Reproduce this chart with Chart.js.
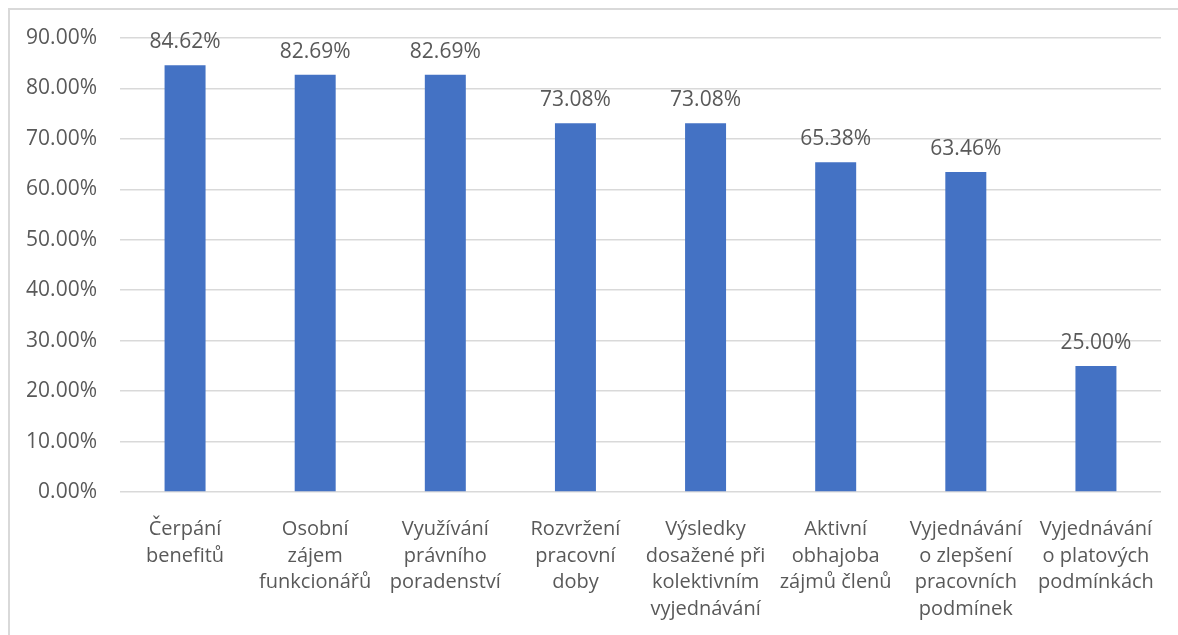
<!DOCTYPE html>
<html lang="cs">
<head>
<meta charset="utf-8">
<title>Graf</title>
<script src="https://cdn.jsdelivr.net/npm/chart.js@4.4.1/dist/chart.umd.min.js"></script>
<style>
    html, body { margin: 0; padding: 0; background: #FFFFFF; overflow: hidden; }
    .frame {
        position: absolute;
        left: 8px;
        top: 8px;
        width: 1200px;
        height: 700px;
        border-top: 2px solid #D9D9D9;
        border-left: 2px solid #D9D9D9;
    }
    #graf { position: absolute; left: 0; top: 0; }
</style>
</head>
<body>
<div class="frame"></div>
<canvas id="graf" width="1178" height="635"></canvas>
<script>
// kategorie (popisky osy x, víceřádkové)
const kategorie = [
    ["Čerpání", "benefitů"],
    ["Osobní", "zájem", "funkcionářů"],
    ["Využívání", "právního", "poradenství"],
    ["Rozvržení", "pracovní", "doby"],
    ["Výsledky", "dosažené při", "kolektivním", "vyjednávání"],
    ["Aktivní", "obhajoba", "zájmů členů"],
    ["Vyjednávání", "o zlepšení", "pracovních", "podmínek"],
    ["Vyjednávání", "o platových", "podmínkách"]
];

// hodnoty v procentech
const hodnoty = [84.62, 82.69, 82.69, 73.08, 73.08, 65.38, 63.46, 25.00];

// osa y
const osaMin = 0;
const osaMax = 90;
const osaKrok = 10;

const barvy = {
    sloupec: '#4472C4',
    text: '#595959',
    mrizka: '#D9D9D9',
};

const pismo = '"Open Sans", "Noto Sans", sans-serif';

// popisky hodnot nad sloupci
const popiskyHodnot = {
    id: 'popiskyHodnot',
    afterDatasetsDraw(chart) {
        const ctx = chart.ctx;
        const meta = chart.getDatasetMeta(0);
        ctx.save();
        ctx.font = '21px ' + pismo;
        ctx.fillStyle = barvy.text;
        ctx.textAlign = 'center';
        ctx.textBaseline = 'alphabetic';
        meta.data.forEach(function (bar, i) {
            ctx.fillText(hodnoty[i].toFixed(2) + '%', bar.x, bar.y - 17);
        });
        ctx.restore();
    }
};

const ctx = document.getElementById('graf').getContext('2d');

new Chart(ctx, {
    type: 'bar',
    data: {
        labels: kategorie,
        datasets: [{
            data: hodnoty,
            backgroundColor: barvy.sloupec,
            categoryPercentage: 1,
            barPercentage: 0.315,
        }],
    },
    options: {
        responsive: false,
        animation: false,
        layout: {
            padding: { top: 38, right: 17, bottom: 0, left: 0 },
        },
        plugins: {
            legend: { display: false },
            tooltip: { enabled: false },
        },
        scales: {
            x: {
                grid: { display: false },
                border: { display: false },
                ticks: {
                    color: barvy.text,
                    font: { family: pismo, size: 20, lineHeight: 1.33 },
                    padding: 16,
                    maxRotation: 0,
                    minRotation: 0,
                    autoSkip: false,
                },
                afterFit(scale) { scale.height = 143; },
            },
            y: {
                min: osaMin,
                max: osaMax,
                grid: {
                    color: barvy.mrizka,
                    lineWidth: 1.5,
                    drawTicks: false,
                },
                border: { display: false },
                ticks: {
                    stepSize: osaKrok,
                    color: barvy.text,
                    font: { family: pismo, size: 21 },
                    padding: 23,
                    callback: function (v) { return v.toFixed(2) + '%'; },
                },
                afterFit(scale) { scale.width = 120; },
            },
        },
    },
    plugins: [popiskyHodnot],
});
</script>
</body>
</html>
